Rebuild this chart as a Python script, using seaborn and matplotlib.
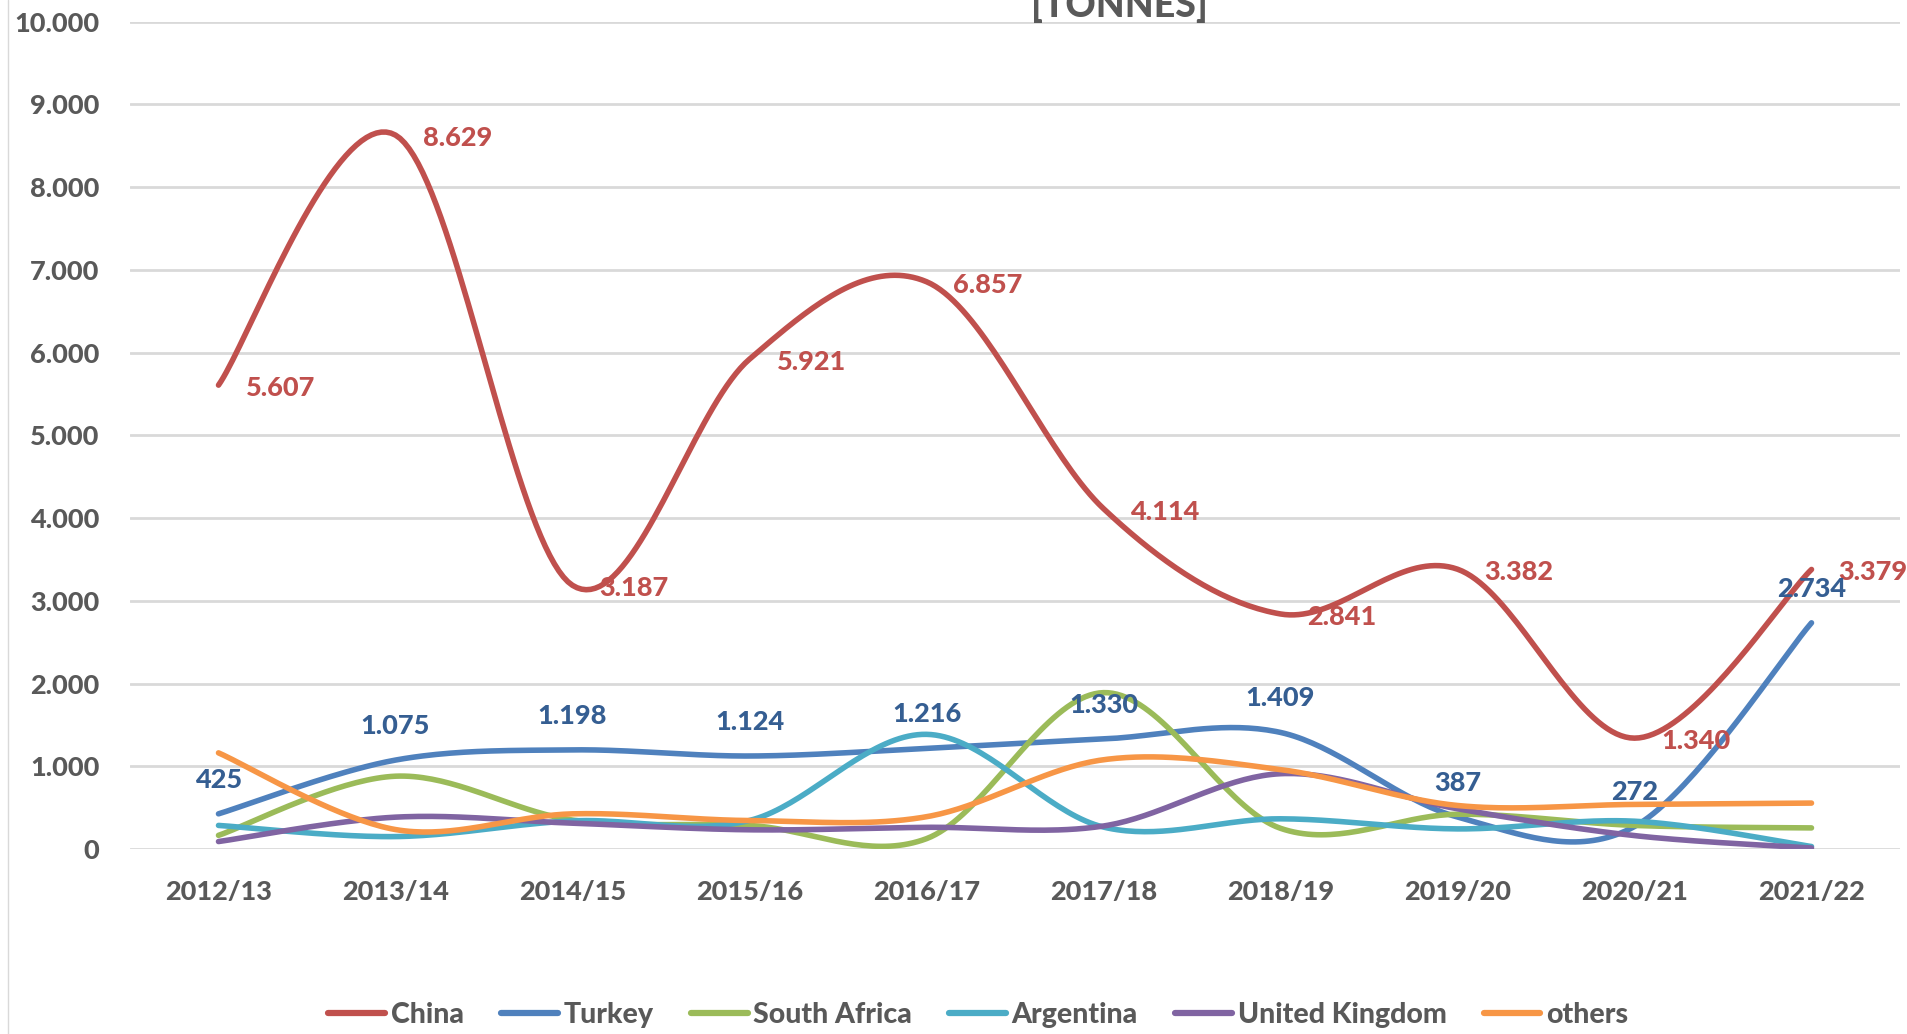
import numpy as np
import matplotlib
matplotlib.use("Agg")
import matplotlib.pyplot as plt
import seaborn as sns
from matplotlib.ticker import FuncFormatter

# data (tonnes)
seasons = ["2012/13", "2013/14", "2014/15", "2015/16", "2016/17",
           "2017/18", "2018/19", "2019/20", "2020/21", "2021/22"]
china = [5607, 8629, 3187, 5921, 6857, 4114, 2841, 3382, 1340, 3379]
turkey = [425, 1075, 1198, 1124, 1216, 1330, 1409, 387, 272, 2734]
south_africa = [165, 880, 350, 285, 125, 1890, 250, 420, 285, 255]
argentina = [285, 150, 340, 345, 1386, 265, 365, 243, 336, 30]
united_kingdom = [90, 385, 312, 232, 262, 278, 910, 486, 162, 12]
others = [1162, 235, 425, 344, 390, 1079, 960, 526, 539, 555]

series = [("China", china, "#C0504D"),
          ("Turkey", turkey, "#4F81BD"),
          ("South Africa", south_africa, "#9BBB59"),
          ("Argentina", argentina, "#4BACC6"),
          ("United Kingdom", united_kingdom, "#8064A2"),
          ("others", others, "#F79646")]

GREY = "#595959"
W = 900  # heavy weight, falls back to bold


def smooth(y, n=40):
    # excel style smoothed line (bezier through the points)
    x = np.arange(len(y), dtype=float)
    y = np.asarray(y, dtype=float)
    px = np.r_[x[0], x, x[-1]]
    py = np.r_[y[0], y, y[-1]]
    t = np.linspace(0, 1, n)[:, None]
    xs, ys = [], []
    for i in range(len(y) - 1):
        p0 = np.array([px[i + 1], py[i + 1]])
        p3 = np.array([px[i + 2], py[i + 2]])
        p1 = p0 + (np.array([px[i + 2], py[i + 2]]) - np.array([px[i], py[i]])) / 6
        p2 = p3 - (np.array([px[i + 3], py[i + 3]]) - np.array([px[i + 1], py[i + 1]])) / 6
        b = ((1 - t) ** 3) * p0 + 3 * ((1 - t) ** 2) * t * p1 + 3 * (1 - t) * t ** 2 * p2 + t ** 3 * p3
        xs.append(b[:, 0])
        ys.append(b[:, 1])
    return np.concatenate(xs), np.concatenate(ys)


sns.set_theme(style="white")
plt.rcParams["font.family"] = ["Lato", "DejaVu Sans"]
plt.rcParams["font.weight"] = "bold"

fig = plt.figure(figsize=(19.07, 10.34), dpi=100)
ax = fig.add_axes([130 / 1907, 1 - 849 / 1034, 1770 / 1907, (849 - 21.7) / 1034])

for name, vals, col in series:
    xs, ys = smooth(vals)
    sns.lineplot(x=xs, y=ys, ax=ax, color=col, lw=4.0, sort=False,
                 label=name, solid_capstyle="round")

fmt = lambda v: f"{v:,.0f}".replace(",", ".")

for i, v in enumerate(china):
    ax.annotate(fmt(v), (i, v), xytext=(27, -3), textcoords="offset pixels",
                ha="left", va="center", color="#C0504D", fontsize=19.5,
                fontweight=W)
for i, v in enumerate(turkey):
    ax.annotate(fmt(v), (i, v), xytext=(0, 34), textcoords="offset pixels",
                ha="center", va="center", color="#355E92", fontsize=19.5,
                fontweight=W)

ax.set_xlim(-0.5, 9.5)
ax.set_ylim(0, 10000)
ax.set_xticks(range(len(seasons)))
ax.set_xticklabels(seasons)
ax.set_yticks(np.arange(0, 10001, 1000))
ax.yaxis.set_major_formatter(FuncFormatter(lambda v, p: fmt(v)))
ax.tick_params(axis="both", length=0, labelsize=19.5, colors=GREY)
ax.tick_params(axis="y", pad=22)
ax.tick_params(axis="x", pad=22)
for lab in ax.get_xticklabels() + ax.get_yticklabels():
    lab.set_fontweight(W)
ax.grid(axis="y", color="#D9D9D9", lw=2)
ax.set_axisbelow(True)
for s in ax.spines.values():
    s.set_visible(False)
ax.set_xlabel("")
ax.set_ylabel("")

leg = ax.legend(loc="lower center", bbox_to_anchor=(0.513, -0.019),
                bbox_transform=fig.transFigure, ncol=6, frameon=False,
                fontsize=20.5, handlelength=2.0, handletextpad=0.2,
                columnspacing=1.3)
for t in leg.get_texts():
    t.set_color(GREY)
    t.set_fontweight(W)
for h in leg.get_lines():
    h.set_linewidth(4.5)

fig.text(0.587, 1 - 17 / 1034, "[TONNES]", ha="center", va="baseline",
         fontsize=27, fontweight=W, color=GREY)
fig.add_artist(plt.Line2D([8 / 1907, 8 / 1907], [0, 1], color="#D9D9D9", lw=1))

fig.savefig("out.png", dpi=100)
